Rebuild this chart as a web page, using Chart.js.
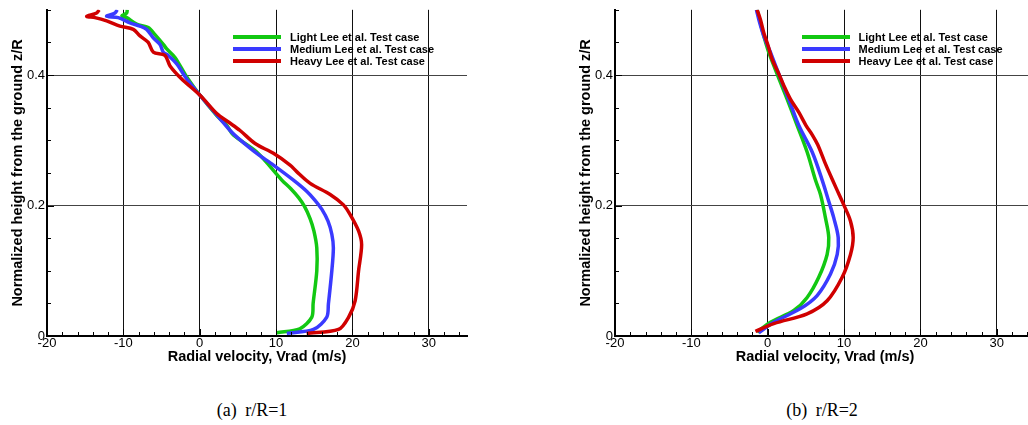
<!DOCTYPE html>
<html>
<head>
<meta charset="utf-8">
<script src="https://cdn.jsdelivr.net/npm/chart.js@4"></script>
<style>
  html, body { margin: 0; padding: 0; background: #fff; overflow: hidden; width: 1028px; height: 425px; }
  canvas { position: absolute; top: 0; }
  .legend { position: absolute; top: 30.5px; font: bold 11px "Liberation Sans", Arial, sans-serif; color: #000; }
  .chart-legend-item { display: flex; align-items: center; height: 12.3px; white-space: nowrap; }
  .caption { position: absolute; top: 400px; line-height: 20px; font: 18px "Liberation Serif", "Times New Roman", serif; word-spacing: 4px; transform: translateX(-50%); white-space: nowrap; }
</style>
</head>
<body>
<canvas id="chartA" width="520" height="372" style="left:0"></canvas>
<canvas id="chartB" width="520" height="372" style="left:568px"></canvas>
<div class="legend" id="legendA" style="left:233px"></div>
<div class="legend" id="legendB" style="left:801.5px"></div>
<div class="caption" style="left:252px">(a) r/R=1</div>
<div class="caption" style="left:822px">(b) r/R=2</div>
<script>
const xTicks = [-20, -10, 0, 10, 20, 30];
const yTicks = [0, 0.2, 0.4];
const names = ['Light Lee et al. Test case', 'Medium Lee et al. Test case', 'Heavy Lee et al. Test case'];
const colors = ['#12c812', '#3a3aff', '#d00000'];

// r/R=1 : высота z/R и радиальная скорость
const zLight1 = [0.005, 0.011, 0.029, 0.050, 0.100, 0.135, 0.161, 0.180, 0.199, 0.212, 0.226, 0.239, 0.282, 0.308, 0.323, 0.338, 0.369, 0.397, 0.427, 0.440, 0.447, 0.462, 0.473, 0.478, 0.488, 0.491, 0.495, 0.500];
const vLight1 = [10.1, 13.1, 14.68, 14.85, 15.33, 15.33, 14.95, 14.45, 13.7, 12.95, 11.9, 10.75, 7.47, 4.40, 3.54, 2.23, 0.04, -1.70, -3.24, -4.32, -4.77, -5.86, -6.74, -8.26, -9.57, -10.2, -9.57, -9.49];
const zMedium1 = [0.004, 0.010, 0.029, 0.049, 0.100, 0.135, 0.156, 0.176, 0.194, 0.208, 0.222, 0.239, 0.262, 0.280, 0.303, 0.315, 0.333, 0.369, 0.394, 0.417, 0.430, 0.435, 0.447, 0.457, 0.470, 0.475, 0.480, 0.488, 0.490, 0.495, 0.500];
const vMedium1 = [11.4, 14.9, 16.64, 16.85, 17.3, 17.5, 17.3, 16.8, 16.0, 15.1, 14.0, 12.27, 9.65, 7.47, 5.06, 3.97, 2.66, 0.04, -1.70, -3.01, -4.12, -4.77, -5.20, -6.08, -6.95, -7.82, -9.13, -10.67, -12.19, -11.1, -10.8];
const zHeavy1 = [0.004, 0.010, 0.029, 0.054, 0.100, 0.140, 0.161, 0.186, 0.201, 0.217, 0.234, 0.252, 0.262, 0.280, 0.295, 0.315, 0.328, 0.341, 0.369, 0.394, 0.414, 0.430, 0.435, 0.450, 0.460, 0.470, 0.475, 0.483, 0.488, 0.490, 0.495, 0.500];
const vHeavy1 = [14.0, 18.17, 19.5, 20.35, 20.8, 21.2, 20.8, 19.7, 18.82, 17.08, 14.46, 12.7, 11.83, 9.65, 7.25, 5.28, 3.75, 2.23, 0.04, -2.36, -3.89, -4.55, -6.08, -6.74, -7.82, -8.7, -10.45, -12.19, -13.72, -14.8, -13.5, -13.16];

// r/R=2
const zLight2 = [0.006, 0.021, 0.039, 0.059, 0.090, 0.125, 0.151, 0.181, 0.217, 0.239, 0.282, 0.323, 0.363, 0.389, 0.410, 0.435, 0.460, 0.480, 0.500];
const vLight2 = [-1.39, 0.35, 3.41, 5.16, 6.68, 7.78, 7.99, 7.56, 6.91, 6.25, 5.16, 3.85, 2.54, 1.65, 0.95, 0.13, -0.52, -0.96, -1.39];
const zMedium2 = [0.005, 0.021, 0.042, 0.062, 0.095, 0.125, 0.151, 0.181, 0.206, 0.239, 0.282, 0.323, 0.363, 0.394, 0.435, 0.460, 0.480, 0.500];
const vMedium2 = [-1.18, 0.79, 4.29, 6.47, 8.22, 9.1, 9.23, 8.65, 8.0, 7.13, 5.82, 4.06, 2.75, 1.7, 0.35, -0.52, -1.05, -1.48];
const zHeavy2 = [0.007, 0.019, 0.034, 0.054, 0.090, 0.125, 0.151, 0.176, 0.201, 0.227, 0.252, 0.267, 0.293, 0.308, 0.323, 0.343, 0.363, 0.384, 0.402, 0.424, 0.445, 0.465, 0.485, 0.500];
const vHeavy2 = [-1.61, 0.79, 5.16, 7.78, 9.75, 10.84, 11.19, 10.84, 9.96, 8.95, 8.0, 7.45, 6.55, 5.85, 5.0, 4.06, 2.97, 2.10, 1.44, 0.58, 0.05, -0.52, -0.96, -1.39];

const toPoints = (v, z) => v.map((x, i) => ({ x: x, y: z[i] }));

const makeDatasets = (series, tension) => series.map((s, i) => ({
    label: names[i],
    data: toPoints(s[0], s[1]),
    borderColor: colors[i],
    showLine: true,
    pointRadius: 0,
    borderWidth: 3.5,
    tension: tension,
    order: 2 - i
}));

// засечки внутрь осей (большие и малые)
const innerTicks = {
    id: 'innerTicks',
    afterDatasetsDraw(chart) {
        const { ctx, scales: { x, y } } = chart;
        const bottom = y.getPixelForValue(0);
        const left = x.getPixelForValue(-20);
        ctx.save();
        ctx.strokeStyle = '#000';
        ctx.lineWidth = 1;
        ctx.beginPath();
        for (let i = 0; i <= 27; i++) {
            const px = Math.round(x.getPixelForValue(-20 + 2 * i)) + 0.5;
            const len = i % 5 === 0 ? 7 : 4;
            ctx.moveTo(px, bottom);
            ctx.lineTo(px, bottom - len);
        }
        for (let i = 1; i <= 10; i++) {
            const py = Math.round(y.getPixelForValue(i * 0.05)) + 0.5;
            const len = i % 4 === 0 ? 7 : 4;
            ctx.moveTo(left, py);
            ctx.lineTo(left + len, py);
        }
        ctx.stroke();
        ctx.restore();
    }
};

const font = { family: '"Liberation Sans", Arial, sans-serif', size: 13 };
const titleFont = { family: '"Liberation Sans", Arial, sans-serif', size: 14.5, weight: 'bold' };

const config = (datasets) => ({
    type: 'scatter',
    data: { datasets: datasets },
    options: {
        responsive: false,
        animation: false,
        layout: { padding: { left: 0, top: 7, right: 53, bottom: 0 } },
        plugins: { legend: { display: false }, tooltip: { enabled: false } },
        scales: {
            x: {
                type: 'linear', min: -20, max: 35,
                afterBuildTicks: (s) => { s.ticks = xTicks.map(v => ({ value: v })); },
                afterFit: (s) => { s.height = 36; },
                ticks: { color: '#000', font: font, padding: 0, maxRotation: 0, autoSkip: false, callback: (v) => String(v) },
                grid: { color: '#111', lineWidth: 1, drawTicks: false },
                border: { color: '#000', width: 2 },
                title: { display: true, text: 'Radial velocity, Vrad (m/s)', color: '#000', font: titleFont, padding: { top: 0, bottom: 6 } }
            },
            y: {
                type: 'linear', min: 0, max: 0.5,
                afterBuildTicks: (s) => { s.ticks = yTicks.map(v => ({ value: v })); },
                afterFit: (s) => { s.width = 47; },
                ticks: { color: '#000', font: font, padding: 2, autoSkip: false, callback: (v) => String(v) },
                grid: { color: '#444', lineWidth: 1, drawTicks: false },
                border: { color: '#000', width: 2 },
                title: { display: true, text: 'Normalized height from the ground z/R', color: '#000', font: titleFont, padding: { top: 9, bottom: 0 } }
            }
        }
    },
    plugins: [innerTicks]
});

new Chart(document.getElementById('chartA'), config(makeDatasets([
    [vLight1, zLight1], [vMedium1, zMedium1], [vHeavy1, zHeavy1]
], 0.3)));

new Chart(document.getElementById('chartB'), config(makeDatasets([
    [vLight2, zLight2], [vMedium2, zMedium2], [vHeavy2, zHeavy2]
], 0.35)));

// легенда поверх графика
const createLegend = (legendId) => {
    const legendContainer = document.getElementById(legendId);
    names.forEach((label, index) => {
        const legendItem = document.createElement('div');
        legendItem.classList.add('chart-legend-item');

        const colorBox = document.createElement('span');
        colorBox.style.display = 'inline-block';
        colorBox.style.width = '48px';
        colorBox.style.height = '4px';
        colorBox.style.backgroundColor = colors[index];
        colorBox.style.marginRight = '9px';

        const labelText = document.createElement('span');
        labelText.textContent = label;

        legendItem.appendChild(colorBox);
        legendItem.appendChild(labelText);
        legendContainer.appendChild(legendItem);
    });
};

createLegend('legendA');
createLegend('legendB');
</script>
</body>
</html>
